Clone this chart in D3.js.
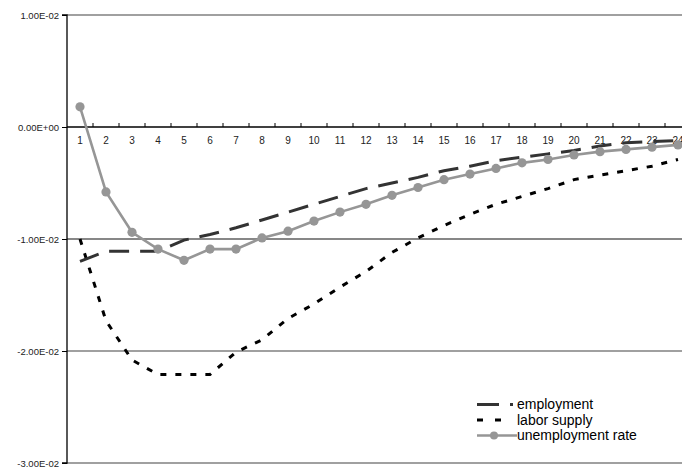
<!DOCTYPE html>
<html><head><meta charset="utf-8">
<script src="https://cdn.jsdelivr.net/npm/d3@7"></script>
<style>
html,body{margin:0;padding:0;background:#fff;overflow:hidden}
svg{display:block;font-family:Arial,"Liberation Sans",sans-serif}
</style></head><body>
<svg id="c" width="682" height="468"></svg>
<script>
const categories = d3.range(1, 25);
const employment = [-0.0120,-0.0111,-0.0111,-0.0111,-0.0101,-0.0096,-0.0090,-0.0083,-0.0076,-0.0069,-0.0062,-0.0055,-0.0050,-0.0045,-0.0039,-0.0035,-0.0030,-0.0027,-0.0024,-0.0021,-0.0017,-0.0014,-0.0013,-0.0012];
const laborSupply = [-0.0100,-0.0173,-0.0208,-0.0221,-0.0221,-0.0221,-0.0201,-0.0190,-0.0171,-0.0158,-0.0143,-0.0129,-0.0112,-0.0099,-0.0088,-0.0078,-0.0069,-0.0062,-0.0055,-0.0047,-0.0043,-0.0039,-0.0035,-0.0029];
const unemploymentRate = [0.0018,-0.0058,-0.0094,-0.0109,-0.0119,-0.0109,-0.0109,-0.0099,-0.0093,-0.0084,-0.0076,-0.0069,-0.0061,-0.0054,-0.0047,-0.0042,-0.0037,-0.0032,-0.0029,-0.0025,-0.0022,-0.0020,-0.0018,-0.0016];
const yTicks = [0.01, 0, -0.01, -0.02, -0.03];
const yTickLabels = ["1.00E-02","0.00E+00","-1.00E-02","-2.00E-02","-3.00E-02"];
const seriesNames = ["employment","labor supply","unemployment rate"];

const svg = d3.select("#c");
const mLeft = 67, mTop = 15, mBottom = 463;
const x = d3.scaleBand().domain(categories).range([mLeft, mLeft + 26*24]);
const cx = d => x(d) + x.bandwidth()/2;
const y = d3.scaleLinear().domain([-0.03, 0.01]).range([mBottom, mTop]);

// gridlines
yTicks.forEach((t,i) => {
  if (t === 0) return;
  svg.append("line").attr("x1", mLeft).attr("x2", 682).attr("y1", y(t)).attr("y2", y(t))
    .attr("stroke", t === -0.01 ? "#111" : "#808080").attr("stroke-width", t === -0.01 ? 1.2 : 1.6);
});

// y axis
const yAxis = d3.axisLeft(y).tickValues(yTicks).tickSize(5).tickFormat((d,i)=>yTickLabels[i]);
const ga = svg.append("g").attr("transform", `translate(${mLeft},0)`).call(yAxis);
ga.select(".domain").attr("stroke","#000").attr("stroke-width",1.3).attr("d", `M-5,${mTop}H0V${mBottom}H-5`);
ga.selectAll(".tick line").attr("stroke","#000");
ga.selectAll(".tick text").attr("font-size", 9.5).attr("fill","#222").attr("x",-8)
  .attr("font-family","Arial, 'Liberation Sans', sans-serif");

// x axis at zero
const xAxis = d3.axisBottom(x).tickSize(0).tickPadding(10);
const gx = svg.append("g").attr("transform", `translate(0,${y(0)})`).call(xAxis);
gx.select(".domain").attr("stroke","#000").attr("stroke-width",1.3).attr("d", `M${mLeft},0H682`);
gx.selectAll(".tick text").attr("font-size", 10).attr("fill","#222")
  .attr("font-family","Arial, 'Liberation Sans', sans-serif");
// upward ticks at category boundaries
svg.append("g").selectAll("line").data(categories).join("line")
  .attr("x1", d => x(d) + x.bandwidth()).attr("x2", d => x(d) + x.bandwidth())
  .attr("y1", y(0)).attr("y2", y(0) - 4).attr("stroke","#000").attr("stroke-width",1);

const line = d3.line().x((d,i)=>cx(categories[i])).y(d=>y(d));

svg.append("path").datum(laborSupply).attr("d", line).attr("fill","none")
  .attr("stroke","#000").attr("stroke-width",3).attr("stroke-dasharray","6,9");
svg.append("path").datum(employment).attr("d", line).attr("fill","none")
  .attr("stroke","#333").attr("stroke-width",3).attr("stroke-dasharray","20,11");
svg.append("path").datum(unemploymentRate).attr("d", line).attr("fill","none")
  .attr("stroke","#969696").attr("stroke-width",2.6);
svg.append("g").selectAll("circle").data(unemploymentRate).join("circle")
  .attr("cx",(d,i)=>cx(categories[i])).attr("cy",d=>y(d)).attr("r",4.6).attr("fill","#969696");

// legend
const lg = svg.append("g");
const lx = 477, ly = [404.5, 420, 435.5];
lg.append("line").attr("x1",lx).attr("x2",lx+22).attr("y1",ly[0]).attr("y2",ly[0]).attr("stroke","#333").attr("stroke-width",3);
lg.append("line").attr("x1",lx+33).attr("x2",lx+36).attr("y1",ly[0]).attr("y2",ly[0]).attr("stroke","#333").attr("stroke-width",3);
lg.append("line").attr("x1",lx).attr("x2",lx+25).attr("y1",ly[1]).attr("y2",ly[1]).attr("stroke","#000").attr("stroke-width",3).attr("stroke-dasharray","6,12");
lg.append("line").attr("x1",lx).attr("x2",lx+40).attr("y1",ly[2]).attr("y2",ly[2]).attr("stroke","#969696").attr("stroke-width",2.4);
lg.append("circle").attr("cx",lx+17).attr("cy",ly[2]).attr("r",4).attr("fill","#969696");
lg.selectAll("text").data(seriesNames).join("text")
  .attr("x", lx+40).attr("y",(d,i)=>ly[i]+4.5).attr("font-size",14).attr("fill","#000")
  .text(d=>d);
</script></body></html>
